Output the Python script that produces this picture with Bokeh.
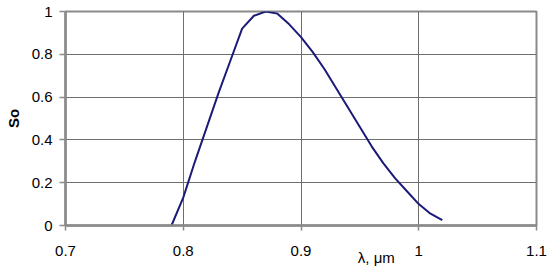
from bokeh.plotting import figure
from bokeh.models import FixedTicker, Range1d, LinearAxis
from bokeh.embed import file_html
from bokeh.resources import INLINE

wavelength = [0.79, 0.80, 0.81, 0.82, 0.83, 0.84, 0.85, 0.86, 0.87, 0.88, 0.89, 0.90,
              0.91, 0.92, 0.93, 0.94, 0.95, 0.96, 0.97, 0.98, 0.99, 1.00, 1.01, 1.02]
so = [0.0, 0.13, 0.30, 0.46, 0.62, 0.77, 0.92, 0.98, 1.0, 0.99, 0.94, 0.88,
      0.81, 0.73, 0.64, 0.55, 0.46, 0.37, 0.29, 0.22, 0.16, 0.10, 0.055, 0.025]

x_ticks = [0.7, 0.8, 0.9, 1.0, 1.1]
x_tick_labels = ["0.7", "0.8", "0.9", "1", "1.1"]
y_ticks = [0, 0.2, 0.4, 0.6, 0.8, 1.0]
y_tick_labels = ["0", "0.2", "0.4", "0.6", "0.8", "1"]
x_title = "λ, μm"
x_title_pos = 0.964

FONT = "Liberation Sans"
AXIS_GRAY = "#8a8a8a"
GRID_GRAY = "#6e6e6e"

p = figure(width=550, height=273, output_backend="svg", toolbar_location=None,
           x_range=Range1d(0.7, 1.1), y_range=Range1d(0, 1),
           min_border_left=65, min_border_right=14, min_border_top=11, min_border_bottom=48)

p.line(wavelength, so, line_color="#1c1a78", line_width=2)

p.outline_line_color = AXIS_GRAY
p.outline_line_width = 2

for ax, ticks, labels in ((p.xaxis[0], x_ticks, x_tick_labels), (p.yaxis[0], y_ticks, y_tick_labels)):
    ax.ticker = FixedTicker(ticks=ticks)
    ax.major_label_overrides = {t: l for t, l in zip(ticks, labels)}
    ax.axis_line_color = AXIS_GRAY
    ax.axis_line_width = 2.5
    ax.major_tick_line_color = AXIS_GRAY
    ax.major_tick_line_width = 1.5
    ax.major_tick_in = 0
    ax.minor_tick_line_color = None
    ax.major_label_text_font = FONT
    ax.major_label_text_font_size = "15px"
    ax.major_label_text_color = "black"

p.xaxis.major_tick_out = 5
p.xaxis.major_label_standoff = 15
p.yaxis.major_tick_out = 6
p.yaxis.major_label_standoff = 7

p.yaxis.axis_label = "So"
p.yaxis.axis_label_text_font = FONT
p.yaxis.axis_label_text_font_size = "15px"
p.yaxis.axis_label_text_font_style = "bold"
p.yaxis.axis_label_text_color = "black"
p.yaxis.axis_label_standoff = 7

# x-axis title placed as the single label of an extra, invisible axis
title_axis = LinearAxis(ticker=FixedTicker(ticks=[x_title_pos]),
                        major_label_overrides={x_title_pos: x_title},
                        axis_line_color=None, major_tick_line_color=None,
                        minor_tick_line_color=None, major_tick_in=0, major_tick_out=0,
                        major_label_standoff=-10,
                        major_label_text_font=FONT, major_label_text_font_size="15px",
                        major_label_text_color="black")
p.add_layout(title_axis, "below")

p.xgrid.ticker = FixedTicker(ticks=x_ticks)
p.ygrid.ticker = FixedTicker(ticks=y_ticks)
p.grid.grid_line_color = GRID_GRAY
p.grid.grid_line_width = 1
p.grid.grid_line_alpha = 1

p.background_fill_color = "white"
p.border_fill_color = "white"

open("out.html", "w").write(file_html(p, INLINE))
